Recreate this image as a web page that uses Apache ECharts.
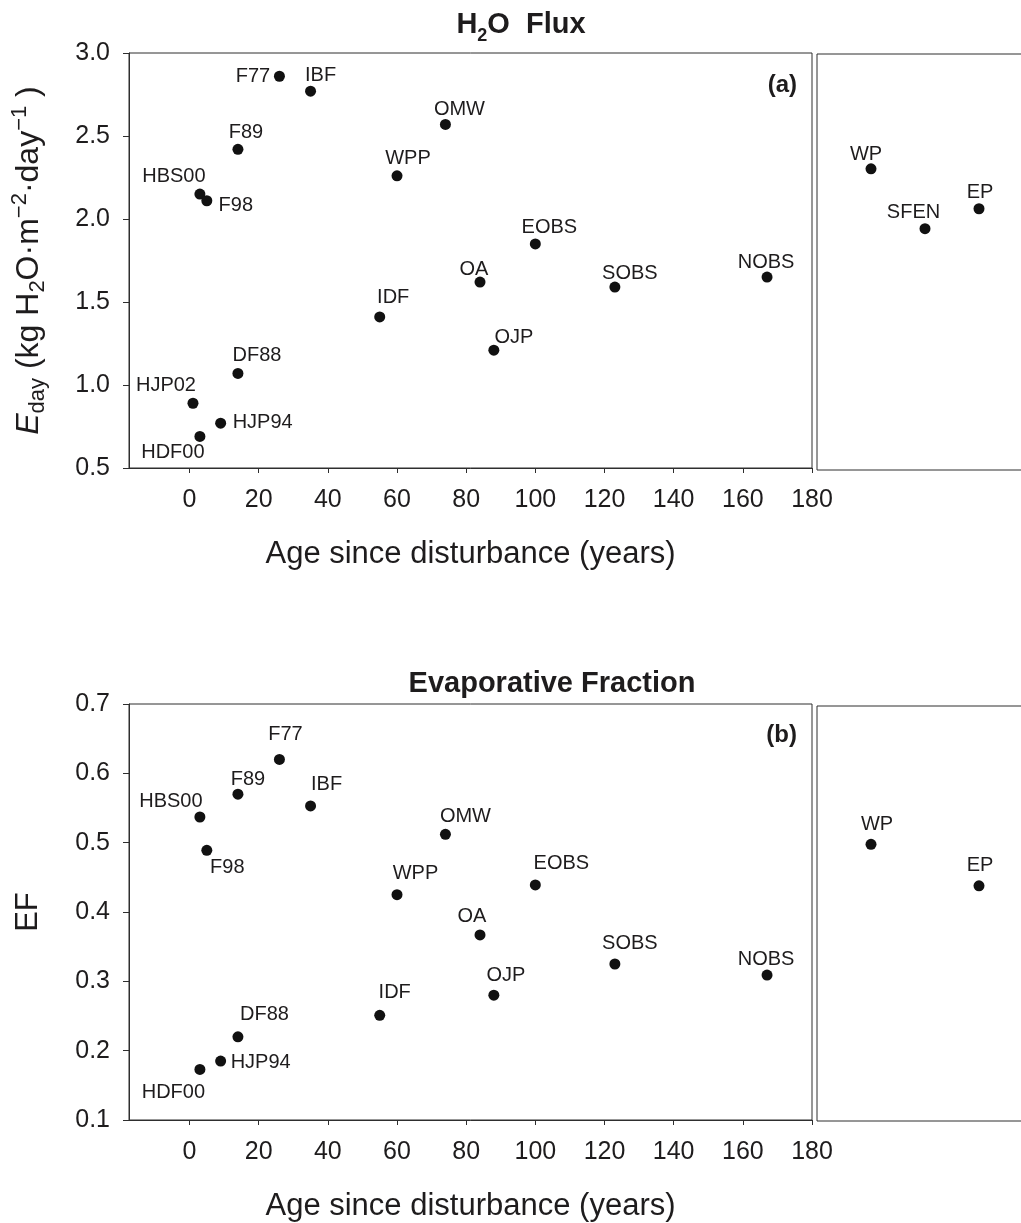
<!DOCTYPE html>
<html><head><meta charset="utf-8">
<script src="https://cdn.jsdelivr.net/npm/echarts@6/dist/echarts.min.js"></script>
<style>html,body{margin:0;padding:0;background:#fff}#c{width:1021px;height:1223px}</style>
</head><body><div id="c"></div>
<script>
// ---- data ----
const sitesA = ['F77','IBF','OMW','F89','WPP','HBS00','F98','OA','IDF','OJP','DF88','HJP02','HJP94','HDF00','EOBS','SOBS','NOBS'];
const ageA   = [26, 35, 74, 14, 60, 3, 5, 84, 55, 88, 14, 1, 9, 3, 100, 123, 167];
const edayA  = [2.86, 2.77, 2.57, 2.42, 2.26, 2.15, 2.11, 1.62, 1.41, 1.21, 1.07, 0.89, 0.77, 0.69, 1.85, 1.59, 1.65];

const sitesB = ['F77','IBF','OMW','F89','WPP','HBS00','F98','OA','IDF','OJP','DF88','HJP94','HDF00','EOBS','SOBS','NOBS'];
const ageB   = [26, 35, 74, 14, 60, 3, 5, 84, 55, 88, 14, 9, 3, 100, 123, 167];
const efB    = [0.620, 0.553, 0.512, 0.570, 0.425, 0.537, 0.489, 0.367, 0.251, 0.280, 0.220, 0.185, 0.173, 0.439, 0.325, 0.309];

// sites without a disturbance age (right-hand panels), in plotting order
const refSites = ['WP','SFEN','EP'];
const refEday  = [2.31, 1.95, 2.07];
const refEf    = [0.50, null, 0.44];

const xTicks = [0, 20, 40, 60, 80, 100, 120, 140, 160, 180];

// ---- label placement (style) ----
const labA = {F77:[-26.5,0], IBF:[10,-16], OMW:[14,-15], F89:[8,-16.5], WPP:[11,-17], HBS00:[-26,-18], F98:[29,5],
  OA:[-6,-13], IDF:[13.5,-19], OJP:[20,-13], DF88:[19,-18], HJP02:[-27,-17.5], HJP94:[42,-1], HDF00:[-27,16],
  EOBS:[14,-16], SOBS:[15,-13.5], NOBS:[-1,-14.5], WP:[-5,-14.5], SFEN:[-11.5,-16], EP:[1,-16]};
const labB = {F77:[6,-24.5], F89:[10,-15], IBF:[16,-21], HBS00:[-29,-16], F98:[20.5,17.5], OMW:[20,-18], WPP:[18.5,-21.5],
  OA:[-8,-18], OJP:[12,-19.5], IDF:[15,-23], DF88:[26.5,-22], HJP94:[40,1], HDF00:[-26.5,23], EOBS:[26,-21.5],
  SOBS:[15,-20.5], NOBS:[-1,-16], WP:[6,-19.5], EP:[1,-20]};

const FONT = 'Liberation Sans, Arial, Helvetica, sans-serif';
const INK = '#1e1c1d';
const LINE = '#2e2e2e';

function pts(names, xs, ys, lab) {
  const out = [];
  names.forEach((n, i) => {
    if (ys[i] == null) return;
    out.push({name: n, value: [xs[i], ys[i]], label: {offset: lab[n] || [0, -16]}});
  });
  return out;
}
const refPos = refSites.map((s, i) => i + 1);

function mainX(gi) {
  return {
    type: 'value', gridIndex: gi, min: -17.5, max: 180,
    axisLine: {show: true, onZero: false, lineStyle: {color: LINE, width: 1}},
    axisTick: {show: true, length: 5, customValues: xTicks, lineStyle: {color: LINE}},
    axisLabel: {customValues: xTicks, margin: 20, fontSize: 25, color: INK, fontFamily: FONT},
    splitLine: {show: false},
    name: 'Age since disturbance (years)', nameLocation: 'middle', nameGap: 71,
    nameTextStyle: {fontSize: 31, color: INK, fontFamily: FONT}
  };
}
function mainY(gi, min, max, step, name, gap, rich) {
  return {
    type: 'value', gridIndex: gi, min: min, max: max, interval: step,
    axisLine: {show: true, onZero: false, lineStyle: {color: LINE, width: 1}},
    axisTick: {show: true, length: 6, lineStyle: {color: LINE}},
    axisLabel: {margin: 19, fontSize: 25, color: INK, fontFamily: FONT, formatter: v => v.toFixed(1)},
    splitLine: {show: false},
    name: name, nameLocation: 'middle', nameGap: gap, nameRotate: 90,
    nameTextStyle: Object.assign({fontSize: 31, color: INK, fontFamily: FONT}, rich ? {rich: rich} : {})
  };
}
function refX(gi) { return {type: 'value', gridIndex: gi, min: 0, max: 4, show: false, splitLine: {show: false}}; }
function refY(gi, min, max) { return {type: 'value', gridIndex: gi, min: min, max: max, show: false, splitLine: {show: false}}; }

const yRich = {
  n: {fontSize: 32, lineHeight: 40, color: INK, fontFamily: FONT},
  i: {fontSize: 32, lineHeight: 40, fontStyle: 'italic', color: INK, fontFamily: FONT},
  sub: {fontSize: 22, lineHeight: 26, verticalAlign: 'bottom', color: INK, fontFamily: FONT},
  sup: {fontSize: 22, lineHeight: 26, verticalAlign: 'top', color: INK, fontFamily: FONT}
};
const yNameA = '{i|E}{sub|day}{n| (kg H}{sub|2}{n|O·m}{sup|−2}{n|·day}{sup|−1}{n| )}';

function scatter(xi, yi, data) {
  return {
    type: 'scatter', xAxisIndex: xi, yAxisIndex: yi, data: data,
    symbol: 'circle', symbolSize: 11, itemStyle: {color: '#111', opacity: 1},
    label: {show: true, formatter: '{b}', position: 'inside', align: 'center', verticalAlign: 'middle',
      fontSize: 20, color: INK, opacity: 1, fontFamily: FONT},
    emphasis: {disabled: true}, silent: true
  };
}

const gridStyle = {show: true, borderColor: LINE, borderWidth: 1, backgroundColor: 'transparent', outerBoundsMode: 'none', containLabel: false};

const option = {
  animation: false,
  backgroundColor: '#fff',
  grid: [
    Object.assign({left: 129, top: 53, width: 683, height: 415}, gridStyle),
    Object.assign({left: 817, top: 54, width: 216, height: 416}, gridStyle),
    Object.assign({left: 129, top: 704, width: 683, height: 416}, gridStyle),
    Object.assign({left: 817, top: 706, width: 216, height: 415}, gridStyle)
  ],
  xAxis: [mainX(0), refX(1), mainX(2), refX(3)],
  yAxis: [
    mainY(0, 0.5, 3.0, 0.5, yNameA, 80, yRich),
    refY(1, 0.5, 3.0),
    mainY(2, 0.1, 0.7, 0.1, 'EF', 85, null),
    refY(3, 0.1, 0.7)
  ],
  series: [
    scatter(0, 0, pts(sitesA, ageA, edayA, labA)),
    scatter(1, 1, pts(refSites, refPos, refEday, labA)),
    scatter(2, 2, pts(sitesB, ageB, efB, labB)),
    scatter(3, 3, pts(refSites, refPos, refEf, labB))
  ],
  graphic: [
    {type: 'text', x: 521, y: 10, silent: true, style: {
      text: '{b|H}{s|2}{b|O  Flux}', align: 'center', verticalAlign: 'top', fill: INK,
      rich: {
        b: {fontSize: 29, fontWeight: 'bold', lineHeight: 28, verticalAlign: 'top', fill: INK, fontFamily: FONT},
        s: {fontSize: 18, fontWeight: 'bold', lineHeight: 17, padding: [17, 0, 0, 0], verticalAlign: 'top', fill: INK, fontFamily: FONT}
      }}},
    {type: 'text', x: 552, y: 684, silent: true, style: {
      text: 'Evaporative Fraction', align: 'center', verticalAlign: 'middle', fill: INK,
      font: 'bold 29px ' + FONT}},
    {type: 'text', x: 797, y: 85, silent: true, style: {
      text: '(a)', align: 'right', verticalAlign: 'middle', fill: INK, font: 'bold 24px ' + FONT}},
    {type: 'text', x: 797, y: 735, silent: true, style: {
      text: '(b)', align: 'right', verticalAlign: 'middle', fill: INK, font: 'bold 24px ' + FONT}}
  ]
};

const chart = echarts.init(document.getElementById('c'), null, {renderer: 'canvas'});
chart.setOption(option);
</script>
</body></html>
